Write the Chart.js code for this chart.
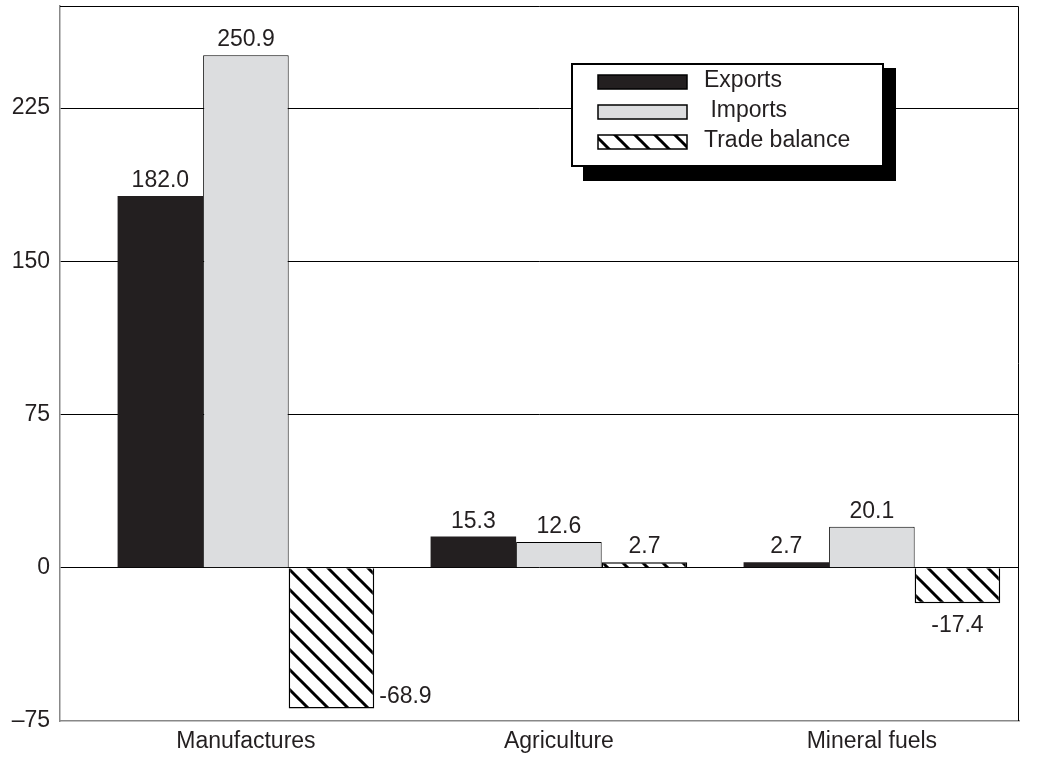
<!DOCTYPE html>
<html>
<head>
<meta charset="utf-8">
<script src="https://cdn.jsdelivr.net/npm/chart.js@4.4.1/dist/chart.umd.min.js"></script>
<style>
  body { margin: 0; background: #fff; }
  canvas { display: block; }
</style>
</head>
<body>
<canvas id="tradeChart" width="1049" height="757"></canvas>
<script>
const categories = ["Manufactures", "Agriculture", "Mineral fuels"];
const exportsData = [182.0, 15.3, 2.7];
const importsData = [250.9, 12.6, 20.1];
const balanceData = [-68.9, 2.7, -17.4];
const yTicks = [-75, 0, 75, 150, 225];

const FONT = "23px 'Liberation Sans', Arial, sans-serif";

// diagonal hatch for the trade balance bars
function makeHatch() {
  const c = document.createElement("canvas");
  c.width = 20;
  c.height = 20;
  const g = c.getContext("2d");
  g.fillStyle = "#fff";
  g.fillRect(0, 0, 20, 20);
  g.strokeStyle = "#000";
  g.lineWidth = 3;
  g.beginPath();
  g.moveTo(-5, -5); g.lineTo(25, 25);
  g.moveTo(-25, -5); g.lineTo(5, 25);
  g.moveTo(15, -5); g.lineTo(45, 25);
  g.stroke();
  return g.createPattern(c, "repeat");
}

const ctx = document.getElementById("tradeChart").getContext("2d");
const hatch = makeHatch();

function toPoints(arr) {
  return arr.map((v, i) => ({ x: i, y: v }));
}

const frameAndLabels = {
  id: "frameAndLabels",
  afterDatasetsDraw(chart) {
    const c = chart.ctx;
    const a = chart.chartArea;
    c.save();
    // top and right frame
    c.strokeStyle = "#000";
    c.lineWidth = 1;
    c.beginPath();
    c.moveTo(a.left, a.top + 0.5);
    c.lineTo(a.right - 0.5, a.top + 0.5);
    c.lineTo(a.right - 0.5, a.bottom);
    c.stroke();

    // value labels
    c.font = FONT;
    c.fillStyle = "#231f20";
    c.textBaseline = "alphabetic";
    chart.data.datasets.forEach((ds, di) => {
      chart.getDatasetMeta(di).data.forEach((bar, i) => {
        const v = ds.data[i].y;
        const txt = v.toFixed(1);
        if (v >= 0) {
          c.textAlign = "center";
          c.fillText(txt, bar.x, bar.y - 9);
        } else if (bar.y + 32 > a.bottom) {
          c.textAlign = "left";
          c.fillText(txt, bar.x + bar.width / 2 + 5, bar.y - 6);
        } else {
          c.textAlign = "center";
          c.fillText(txt, bar.x, bar.y + 29);
        }
      });
    });

    // legend box with drop shadow
    const lx = 572, ly = 64, lw = 311, lh = 102;
    c.fillStyle = "#000";
    c.fillRect(lx + 11, ly + 4, 313, 113);
    c.fillStyle = "#fff";
    c.fillRect(lx, ly, lw, lh);
    c.strokeStyle = "#000";
    c.lineWidth = 2;
    c.strokeRect(lx, ly, lw, lh);
    c.font = FONT;
    c.textAlign = "left";
    c.textBaseline = "middle";
    chart.data.datasets.forEach((ds, di) => {
      const sy = 75 + di * 30;
      c.fillStyle = ds.backgroundColor;
      c.fillRect(598, sy, 89, 14);
      c.strokeStyle = "#000";
      c.lineWidth = 1.5;
      c.strokeRect(598, sy, 89, 14);
      c.fillStyle = "#231f20";
      c.fillText(ds.label, 704, sy + 6);
    });
    c.restore();
  }
};

new Chart(ctx, {
  type: "bar",
  data: {
    datasets: [
      {
        label: "Exports",
        data: toPoints(exportsData),
        backgroundColor: "#231f20",
        borderColor: "#231f20",
        borderWidth: 0,
      },
      {
        label: " Imports",
        data: toPoints(importsData),
        backgroundColor: "#dcdddf",
        borderColor: "#000",
        borderWidth: 1,
      },
      {
        label: "Trade balance",
        data: toPoints(balanceData),
        backgroundColor: hatch,
        borderColor: "#000",
        borderWidth: 1.5,
      },
    ],
  },
  options: {
    responsive: false,
    animation: false,
    layout: {
      padding: { top: 6, right: 30, left: 0, bottom: 0 },
    },
    datasets: {
      bar: {
        categoryPercentage: 0.82,
        barPercentage: 1.0,
      },
    },
    scales: {
      x: {
        type: "linear",
        offset: false,
        min: -0.594,
        max: 2.47,
        grid: { display: false, drawTicks: false },
        border: { display: true, color: "#888", width: 1.5 },
        afterBuildTicks: (scale) => {
          scale.ticks = categories.map((_, i) => ({ value: i }));
        },
        afterFit: (scale) => {
          scale.height = 36;
          scale.paddingLeft = 0;
          scale.paddingRight = 0;
        },
        ticks: {
          autoSkip: false,
          maxRotation: 0,
          padding: 7,
          color: "#231f20",
          font: { size: 23, family: "'Liberation Sans', Arial, sans-serif" },
          callback: (v) => categories[v],
        },
      },
      y: {
        min: -75,
        max: 275,
        grid: {
          drawTicks: false,
          color: (c) => (c.tick && c.tick.value > -75 ? "#000" : "transparent"),
          lineWidth: 1,
        },
        border: { display: true, color: "#888", width: 1.5 },
        afterBuildTicks: (scale) => {
          scale.ticks = yTicks.map((v) => ({ value: v }));
        },
        afterFit: (scale) => {
          scale.width = 60;
          scale.paddingTop = 0;
          scale.paddingBottom = 0;
        },
        ticks: {
          padding: 10,
          color: "#231f20",
          font: { size: 23, family: "'Liberation Sans', Arial, sans-serif" },
          callback: (v) => (v < 0 ? "\u2013" + Math.abs(v) : String(v)),
        },
      },
    },
    plugins: {
      legend: { display: false },
      tooltip: { enabled: false },
    },
  },
  plugins: [frameAndLabels],
});
</script>
</body>
</html>
